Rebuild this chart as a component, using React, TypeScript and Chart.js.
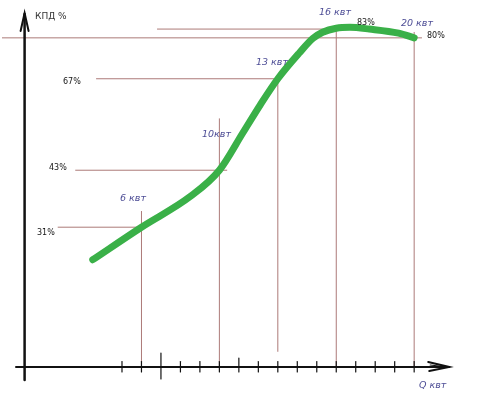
import React, { useEffect, useRef } from "react";
import { Chart, registerables, LinearScale } from "chart.js";

// Hand-drawn КПД axis is compressed toward the top: an offset-log scale matches it
const LOG_OFFSET = 35;
class OffsetLogScale extends LinearScale {
  static id = "offsetLog";
  static defaults = LinearScale.defaults;
  _t(v: number) {
    const a = Math.log(this.min + LOG_OFFSET);
    const b = Math.log(this.max + LOG_OFFSET);
    return (Math.log(v + LOG_OFFSET) - a) / (b - a);
  }
  getPixelForValue(value: number) {
    return this.getPixelForDecimal(this._t(value));
  }
  getValueForPixel(pixel: number) {
    const a = Math.log(this.min + LOG_OFFSET);
    const b = Math.log(this.max + LOG_OFFSET);
    const d = this.getDecimalForPixel(pixel);
    return Math.exp(a + d * (b - a)) - LOG_OFFSET;
  }
}

Chart.register(...registerables, OffsetLogScale);

// Efficiency curve (Q, kW → КПД, %)
const curveKw = [3.5, 6, 8.5, 10, 11.2, 12.1, 13, 14.1, 14.8, 15.3, 16, 16.7, 17.7, 19.2, 20];
const curvePct = [25, 31, 37.2, 43, 52, 59.5, 67, 75, 79.8, 81.9, 83.3, 83.6, 83, 81.6, 80];

// Vertical guide lines at marked powers
const markKw = [6, 10, 13, 16, 20];
const markKwTop = [34.2, 55.8, 67, 83, 82];

// Horizontal guide lines at marked efficiencies
const markPct = [31, 43, 67, 80, 83];
const markPctFrom = [1.7, 2.6, 3.67, -1.16, 6.8];
const markPctTo = [6, 10.4, 13, 20.4, 16];

// Axis tick marks (kW)
const kwTicks = [5, 6, 7, 8, 9, 10, 11, 12, 13, 14, 15, 16, 17, 18, 19, 20];

// Texts
const kwLabels = ["6 квт", "10квт", "13 квт", "16 квт", "20 квт"];
const pctLabels = ["31%", "43%", "67%", "80%", "83%"];
const yTitle = "КПД %";
const xTitle = "Q квт";

// Scale window (x axis baseline sits at Y_MIN)
const X_MIN = -1.263;
const X_MAX = 23.38;
const Y_MIN = 8.8;
const Y_MAX = 93.5;

const GREEN = "rgb(58,176,72)";
const GUIDE = "rgb(172,122,120)";
const BLUE = "rgb(78,78,150)";

const drawPlugin = {
  id: "handAxes",
  afterDraw(chart: any) {
    const ctx = chart.ctx as CanvasRenderingContext2D;
    const xs = chart.scales.x;
    const ax = xs.getPixelForValue(0);
    const ay = chart.chartArea.bottom;
    ctx.save();
    ctx.strokeStyle = "#111";
    ctx.lineCap = "round";
    // y axis
    ctx.lineWidth = 2.5;
    ctx.beginPath();
    ctx.moveTo(ax, 14);
    ctx.lineTo(ax, ay + 13);
    ctx.stroke();
    // y arrow
    ctx.lineWidth = 2;
    ctx.beginPath();
    ctx.moveTo(ax - 4, 31);
    ctx.lineTo(ax, 13);
    ctx.lineTo(ax + 4, 31);
    ctx.stroke();
    // x axis
    ctx.lineWidth = 2;
    ctx.beginPath();
    ctx.moveTo(xs.getPixelForValue(-0.44), ay);
    ctx.lineTo(xs.getPixelForValue(21.8), ay);
    ctx.stroke();
    const tipX = xs.getPixelForValue(21.8);
    ctx.beginPath();
    ctx.moveTo(tipX - 21, ay - 5);
    ctx.lineTo(tipX, ay);
    ctx.lineTo(tipX - 20, ay + 4);
    ctx.stroke();
    ctx.lineWidth = 1.2;
    ctx.beginPath();
    ctx.moveTo(tipX - 19, ay - 2);
    ctx.lineTo(tipX - 2, ay);
    ctx.stroke();
    // ticks
    ctx.lineWidth = 1.2;
    kwTicks.forEach((k) => {
      const px = xs.getPixelForValue(k);
      const up = k === 7 ? 14 : k === 11 ? 9 : 5.5;
      const down = k === 7 ? 12 : 5;
      ctx.beginPath();
      ctx.moveTo(px, ay - up);
      ctx.lineTo(px, ay + down);
      ctx.stroke();
    });

    // labels
    ctx.textBaseline = "middle";
    ctx.textAlign = "left";
    ctx.fillStyle = "#333";
    ctx.font = "9px 'DejaVu Sans'";
    ctx.fillText(yTitle, 35, 17);

    ctx.fillStyle = "#151515";
    ctx.font = "8px 'DejaVu Sans'";
    const pctPos: [number, number][] = [
      [37, 233],
      [49, 168],
      [63, 82],
      [427, 36],
      [357, 23],
    ];
    pctLabels.forEach((t, i) => ctx.fillText(t, pctPos[i][0], pctPos[i][1]));

    ctx.fillStyle = BLUE;
    ctx.font = "italic 9.5px 'DejaVu Sans'";
    const kwPos: [number, number][] = [
      [120, 199],
      [202, 135],
      [256, 63],
      [319, 13],
      [401, 24],
    ];
    kwLabels.forEach((t, i) => ctx.fillText(t, kwPos[i][0], kwPos[i][1]));
    ctx.fillText(xTitle, 419, 386);
    ctx.restore();
  },
};

export default function App() {
  const ref = useRef<HTMLCanvasElement | null>(null);
  useEffect(() => {
    if (!ref.current) return;
    const guides: any[] = [];
    markKw.forEach((k, i) => {
      guides.push({
        data: [
          { x: k, y: k === 13 ? 10.8 : Y_MIN },
          { x: k, y: markKwTop[i] },
        ],
        borderColor: GUIDE,
        borderWidth: 1,
        pointRadius: 0,
        order: 1,
      });
    });
    markPct.forEach((p, i) => {
      guides.push({
        data: [
          { x: markPctFrom[i], y: p },
          { x: markPctTo[i], y: p },
        ],
        borderColor: GUIDE,
        borderWidth: 1,
        pointRadius: 0,
        order: 1,
      });
    });
    const chart = new Chart(ref.current, {
      type: "line",
      data: {
        datasets: [
          {
            data: curveKw.map((x, i) => ({ x, y: curvePct[i] })),
            borderColor: GREEN,
            borderWidth: 7,
            borderCapStyle: "round",
            pointRadius: 0,
            cubicInterpolationMode: "monotone",
            fill: false,
            order: 0,
          },
          ...guides,
        ],
      },
      options: {
        responsive: false,
        animation: false,
        layout: { padding: { left: 0, right: 0, top: 0, bottom: 41 } },
        plugins: { legend: { display: false }, tooltip: { enabled: false } },
        scales: {
          x: { type: "linear", min: X_MIN, max: X_MAX, display: false },
          y: { type: "offsetLog", min: Y_MIN, max: Y_MAX, display: false },
        },
      },
      plugins: [drawPlugin],
    } as any);
    return () => chart.destroy();
  }, []);
  return (
    <div style={{ position: "absolute", left: 0, top: 0, width: 480, height: 408, background: "#fff" }}>
      <canvas ref={ref} width={480} height={408} />
    </div>
  );
}
